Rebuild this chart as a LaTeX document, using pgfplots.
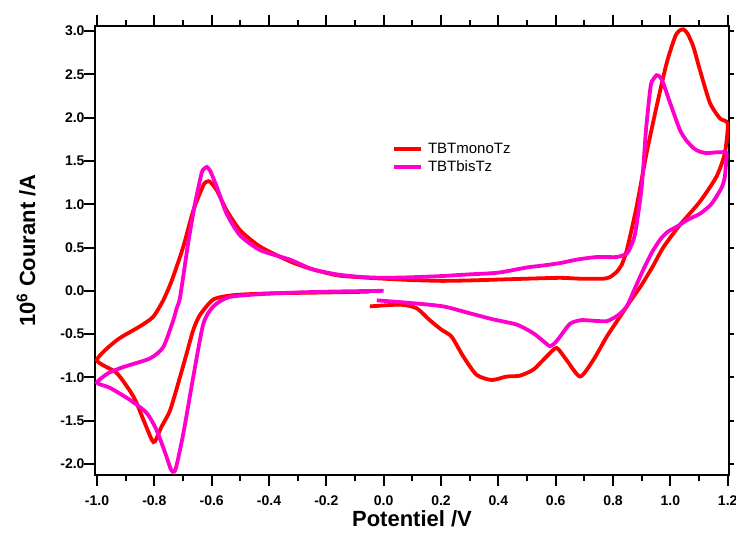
\documentclass[border=0pt]{standalone}
\usepackage{fontspec}
\setmainfont{Liberation Sans}
\usepackage{pgfplots}
\pgfplotsset{compat=1.18}
\definecolor{cvred}{RGB}{255,0,0}
\definecolor{cvmag}{RGB}{255,0,204}
\begin{document}
\begin{tikzpicture}
\begin{axis}[
  scale only axis,
  width=634pt, height=449pt,
  xmin=-1.007, xmax=1.2045,
  ymin=-2.127, ymax=3.058,
  axis line style={line width=2.3pt},
  every tick/.style={black, line width=2pt},
  tick align=outside,
  major tick length=11pt,
  minor tick length=6pt,
  xtick={-1.0,-0.8,...,1.21},
  minor xtick={-0.9,-0.7,...,1.15},
  ytick={-2.0,-1.5,...,3.01},
  xtick pos=both,
  ytick pos=left,
  /pgf/number format/assume math mode=true,
  /pgf/number format/.cd, fixed, fixed zerofill, precision=1,
  /pgfplots/.cd,
  tick label style={font=\bfseries\fontsize{14}{15}\selectfont},
  xticklabel style={yshift=-6.5pt},
  yticklabel style={xshift=4pt},
  xlabel={\textbf{Potentiel /V}},
  ylabel={\textbf{10\textsuperscript{6} Courant /A}},
  label style={font=\bfseries\fontsize{22}{25}\selectfont},
  xlabel style={at={(axis description cs:0.5,-0.1136)}, anchor=base},
  ylabel style={at={(axis description cs:-0.0946,0.5)}, anchor=base},
  legend style={at={(axis cs:0.029,1.73)}, anchor=north west, draw=none, fill=none,
    font=\fontsize{15}{17}\selectfont, inner sep=0pt, row sep=1.5pt,
    /tikz/every odd column/.append style={column sep=3pt}},
  legend cell align=left,
  legend image code/.code={\draw[#1, line width=3.8pt] (0pt,0pt) -- (27pt,0pt);},
]
\addplot[cvred, line width=3.8pt, smooth, tension=0.4] coordinates {
(-0.048,-0.18) (0.057,-0.16) (0.114,-0.20) (0.161,-0.34) (0.202,-0.45) (0.237,-0.53)
(0.278,-0.76) (0.324,-0.97) (0.377,-1.03) (0.429,-0.99) (0.475,-0.98) (0.522,-0.91)
(0.568,-0.76) (0.603,-0.66) (0.638,-0.80) (0.685,-0.99) (0.731,-0.80) (0.778,-0.53)
(0.82,-0.32) (0.86,-0.12) (0.90,0.07) (0.94,0.29) (0.975,0.50) (1.033,0.76)
(1.103,1.03) (1.161,1.32) (1.19,1.59) (1.2,1.93)
(1.173,1.99) (1.138,2.17) (1.103,2.55) (1.08,2.82) (1.06,2.97) (1.045,3.02) (1.03,3.0)
(1.016,2.93) (0.987,2.63) (0.952,2.13) (0.917,1.59) (0.882,0.97) (0.848,0.47)
(0.83,0.30) (0.813,0.22) (0.79,0.16) (0.766,0.14) (0.685,0.14) (0.615,0.15)
(0.5,0.14) (0.4,0.13) (0.3,0.12) (0.2,0.115) (0.092,0.125) (0,0.14) (-0.1,0.16)
(-0.164,0.18) (-0.25,0.25) (-0.327,0.34) (-0.431,0.51) (-0.501,0.70) (-0.548,0.93)
(-0.582,1.16) (-0.606,1.26) (-0.617,1.26) (-0.629,1.22) (-0.664,0.93) (-0.699,0.51)
(-0.739,0.12) (-0.769,-0.11) (-0.804,-0.30) (-0.85,-0.41) (-0.931,-0.57) (-1.0,-0.80)
(-0.931,-0.95) (-0.873,-1.22) (-0.838,-1.49) (-0.809,-1.72) (-0.798,-1.74)
(-0.775,-1.57) (-0.745,-1.38) (-0.71,-0.99) (-0.687,-0.72) (-0.664,-0.45)
(-0.641,-0.28) (-0.594,-0.10) (-0.524,-0.05) (-0.4,-0.03) (-0.222,-0.02) (-0.05,-0.01)
};
\addlegendentry{TBTmonoTz}
\addplot[cvmag, line width=3.8pt, smooth, tension=0.4] coordinates {
(-0.024,-0.11) (0.092,-0.14) (0.208,-0.18) (0.301,-0.26) (0.382,-0.33) (0.464,-0.39)
(0.522,-0.49) (0.56,-0.59) (0.58,-0.64) (0.598,-0.60) (0.615,-0.53) (0.650,-0.38)
(0.685,-0.34) (0.708,-0.34) (0.778,-0.35) (0.818,-0.28) (0.848,-0.18) (0.875,0.02)
(0.905,0.24) (0.935,0.44) (0.964,0.59) (0.99,0.68) (1.022,0.74) (1.06,0.82)
(1.103,0.89) (1.14,0.99) (1.161,1.09) (1.18,1.2) (1.19,1.32) (1.196,1.59)
(1.18,1.60) (1.161,1.60) (1.127,1.59) (1.1,1.61) (1.08,1.65) (1.055,1.74)
(1.033,1.86) (0.999,2.17) (0.975,2.40) (0.964,2.47) (0.952,2.49) (0.94,2.44)
(0.931,2.36) (0.915,1.86) (0.9,1.20) (0.877,0.66) (0.86,0.50) (0.848,0.43)
(0.813,0.39) (0.743,0.39) (0.673,0.36) (0.615,0.32) (0.55,0.29) (0.5,0.27)
(0.4,0.21) (0.3,0.19) (0.25,0.18) (0.2,0.17) (0.092,0.156) (0,0.15) (-0.08,0.16)
(-0.164,0.19) (-0.25,0.25) (-0.327,0.36) (-0.431,0.47) (-0.501,0.64) (-0.548,0.89)
(-0.582,1.20) (-0.606,1.39) (-0.617,1.43) (-0.626,1.41) (-0.635,1.36) (-0.658,1.01)
(-0.682,0.55) (-0.71,-0.07) (-0.722,-0.20) (-0.734,-0.34) (-0.769,-0.65)
(-0.815,-0.78) (-0.908,-0.88) (-0.96,-0.95) (-1.0,-1.06) (-0.955,-1.12)
(-0.885,-1.26) (-0.827,-1.41) (-0.792,-1.61) (-0.757,-1.92) (-0.745,-2.04)
(-0.736,-2.09) (-0.725,-2.05) (-0.699,-1.65) (-0.664,-0.99) (-0.629,-0.38)
(-0.594,-0.18) (-0.536,-0.07) (-0.385,-0.03) (-0.2,-0.01) (0,0.0)
};
\addlegendentry{TBTbisTz}
\coordinate (SW) at (rel axis cs:0,0);
\coordinate (NE) at (rel axis cs:1,1);
\end{axis}
\begin{axis}[
  scale only axis,
  width=634pt, height=449pt,
  xmin=-1.007, xmax=1.2045,
  ymin=-2.127, ymax=3.058,
  axis line style={draw=none},
  every tick/.style={black, line width=2pt},
  tick align=outside,
  major tick length=5pt,
  xtick=\empty,
  ytick={-2.0,-1.5,...,3.01},
  ytick pos=right,
  yticklabels={},
]
\end{axis}
\pgfresetboundingbox
\path[use as bounding box] ([shift={(-95pt,-57pt)}]SW) rectangle ([shift={(7pt,26pt)}]NE);
\end{tikzpicture}
\end{document}
